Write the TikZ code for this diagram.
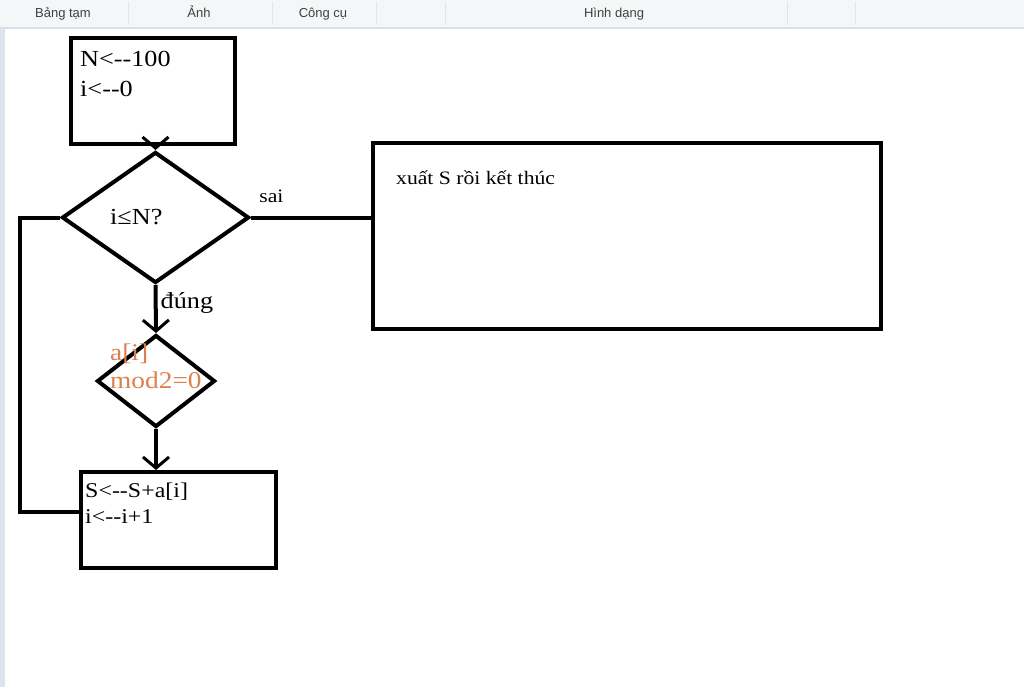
\documentclass[tikz,border=0pt]{standalone}
\usepackage{fontspec}
\setmainfont{Liberation Serif}[FakeStretch=1.14, Ligatures=TeXOff]
\newfontfamily\uifont{Liberation Sans}
\usetikzlibrary{arrows.meta,shapes.geometric,positioning}
\definecolor{barbg}{RGB}{245,246,247}
\definecolor{barline}{RGB}{214,223,234}
\definecolor{barsep}{RGB}{226,228,231}
\definecolor{strip}{RGB}{221,228,238}
\definecolor{tabtext}{RGB}{64,64,64}
\definecolor{paintorange}{RGB}{222,128,76}

\begin{document}
\begin{tikzpicture}
  [x=1pt,y=-1pt,
  block/.style={rectangle, draw, line width=4pt, inner sep=0pt},
  decision/.style={diamond, draw, line width=4pt, inner sep=0pt},
  txt/.style={inner sep=0pt, align=left},
  line/.style={draw, line width=4pt},
  arrow/.style={line, -{Straight Barb[length=11pt,width=26pt,line width=3pt]}},
  tab/.style={anchor=base, font=\uifont\fontsize{13}{15}\selectfont, text=tabtext}]
  \useasboundingbox (0,0) rectangle (1024,687);
  % window chrome
  \fill[barbg] (0,0) rectangle (1024,27);
  \draw[barline, line width=2pt] (0,28) -- (1024,28);
  \fill[strip] (0,29) rectangle (5,687);
  \foreach \x in {128,272,376,445,787,855}
    \draw[barsep] (\x,2) -- (\x,25);
  \node[tab] (tclip) at (63,18) {Bảng tạm};
  \node[tab] (timg) at (199,18) {Ảnh};
  \node[tab] (ttool) at (323,18) {Công cụ};
  \node[tab] (tshape) at (614,18) {Hình dạng};
  % boxes
  \node[block, minimum width=164, minimum height=106] (init) at (153,91) {};
  \node[decision, minimum width=187, minimum height=131] (cond) at (155.5,217.5) {};
  \node[block, minimum width=508, minimum height=186] (finish) at (627,236) {};
  \node[decision, minimum width=118, minimum height=92] (check) at (156,381) {};
  \node[block, minimum width=195, minimum height=96] (update) at (178.5,520) {};
  % texts
  \node[txt, anchor=north west, font=\fontsize{23}{30}\selectfont] (inittxt)
  at (80,51) {N<--100\\i<--0};
  \node[txt, anchor=base west, font=\fontsize{23}{28}\selectfont] (condtxt)
  at (110,224) {i≤N?};
  \node[txt, anchor=base west, font=\fontsize{19}{24}\selectfont] (finishtxt)
  at (396,184) {xuất S rồi kết thúc};
  \node[txt, anchor=north west, text=paintorange,
  font=\fontsize{24}{28}\selectfont] (checktxt)
  at (110,344) {a[i]\\mod2=0};
  \node[txt, anchor=north west, font=\fontsize{21}{26}\selectfont] (updatetxt)
  at (85,483) {S<--S+a[i]\\i<--i+1};
  \coordinate (back) at (20,512);
  \begin{scope}[font=\fontsize{19}{24}\selectfont]
    \path[arrow] (cond.north |- init.south) -- (cond.north);
    \path[line] (cond.east) -- node[pos=0.17, above=13pt, inner sep=0pt]
    {sai} (cond.east -| finish.west);
    \path[arrow] (cond.south) -- node[pos=0.38, right=3pt, inner sep=0pt,
    font=\fontsize{23}{28}\selectfont] {đúng} (check.north);
    \path[arrow] (check.south) -- (check.south |- update.north);
    \path[line] ([yshift=8pt]update.west) -- (back) |- (cond.west);
  \end{scope}
\end{tikzpicture}
\end{document}
